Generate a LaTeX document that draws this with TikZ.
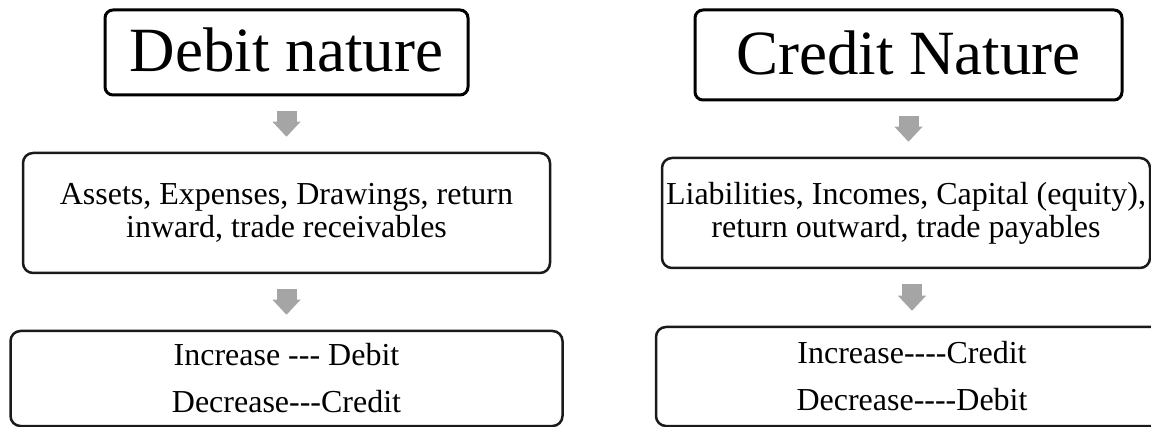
\documentclass[tikz,border=0pt]{standalone}
\usepackage{fontspec}
\setmainfont{Liberation Serif}
\usetikzlibrary{arrows.meta}
\definecolor{arrowgray}{HTML}{A5A5A5}
\definecolor{boxline}{HTML}{1A1A1A}
\begin{document}
\begin{tikzpicture}[x=1pt,y=1pt,
  topbox/.style={draw=black, line width=3pt, rounded corners=8pt, inner sep=0pt,
    font=\fontsize{63}{63}\selectfont, text height=45pt, text depth=6pt},
  midbox/.style={draw=boxline, line width=2.5pt, rounded corners=10pt, inner sep=0pt,
    align=center, font=\fontsize{32}{33}\selectfont},
  lowbox/.style={draw=boxline, line width=2.5pt, rounded corners=10pt, inner sep=0pt,
    align=center, font=\fontsize{32}{47}\selectfont},
  garrow/.style={draw=arrowgray, line width=20pt,
    -{Triangle[width=28pt,length=15pt,line width=0pt]},
    shorten <=15pt, shorten >=15pt}]
\useasboundingbox (0,0) rectangle (1151,-427);
\clip (0,0) rectangle (1151,-427);
% left column
\node[topbox, minimum width=363pt, minimum height=85pt] (debit) at (286.5,-52.5) {Debit nature};
\node[midbox, minimum width=527pt, minimum height=120pt] (assets) at (286.5,-213)
  {Assets, Expenses, Drawings, return\\inward, trade receivables};
\node[lowbox, minimum width=552pt, minimum height=95pt] (dincr) at (286.5,-378.5)
  {Increase -{}-{}- Debit\\Decrease-{}-{}-Credit};
% right column
\node[topbox, minimum width=427pt, minimum height=90pt] (credit) at (908.5,-55) {Credit Nature};
\node[midbox, minimum width=488pt, minimum height=110pt] (liab) at (906,-213)
  {Liabilities, Incomes, Capital (equity),\\return outward, trade payables};
\node[lowbox, minimum width=512pt, minimum height=99pt] (cincr) at (912,-376.5)
  {Increase-{}-{}-{}-Credit\\Decrease-{}-{}-{}-Debit};
% connectors
\draw[garrow] (debit.south) -- (assets.north);
\draw[garrow] (assets.south) -- (dincr.north);
\draw[garrow] (credit.south) -- (credit.south |- liab.north);
\draw[garrow] (liab.south -| cincr.north) -- (cincr.north);
\end{tikzpicture}
\end{document}
